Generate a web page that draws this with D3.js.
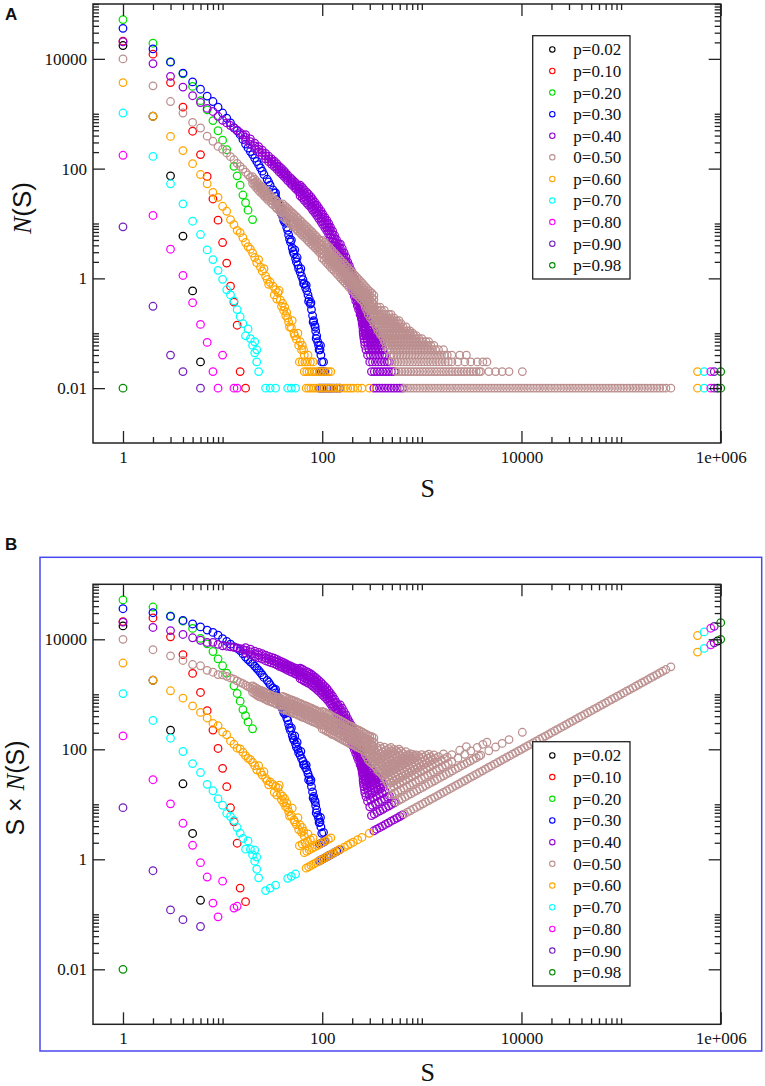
<!DOCTYPE html>
<html>
<head>
<meta charset="utf-8">
<script src="https://cdn.jsdelivr.net/npm/d3@7"></script>
<style>
  body { margin: 0; background: #fff; }
  svg { display: block; }
</style>
</head>
<body>
<svg id="chart" width="765" height="1086"></svg>
<script>
// ---- legend / series ----
const seriesLabels = ['p=0.02', 'p=0.10', 'p=0.20', 'p=0.30', 'p=0.40', '0=0.50',
                      'p=0.60', 'p=0.70', 'p=0.80', 'p=0.90', 'p=0.98'];
const seriesColors = ['#000000', '#ff0000', '#00e000', '#0000ff', '#9400d3', '#bc8f8f',
                      '#ffa500', '#00ffff', '#ff00ff', '#7221bc', '#008b00'];

// ---- axis ticks ----
const xMajors = [1, 100, 10000, 1000000];
const xTickLabels = ['1', '100', '10000', '1e+006'];
const yMajors = [0.01, 1, 100, 10000];
const yTickLabels = ['0.01', '1', '100', '10000'];

// ---- N(S) values: [S, N] ----
const p02 = [[1, 17500], [2, 900], [3, 74], [4, 5.9], [5, 0.59], [6, 0.03], [930000, 0.01]];
const p10 = [[1, 21000], [2, 12200], [3, 3700], [4, 1320], [5, 480], [6, 180], [7, 72], [8, 28],
             [9, 11.5], [10, 4.5], [11, 1.9], [12, 0.72], [13, 0.37], [14, 0.14], [15, 0.02], [17, 0.01]];
const p20 = [[1, 52000], [2, 19300], [3, 8900], [4, 5350], [5, 3150], [6, 1730], [7, 1180], [8, 750],
             [9, 490], [10, 330], [11, 221], [13, 110], [14, 74], [15, 50], [16, 33], [17, 24],
             [18, 17.5], [20, 11.8]];
const p30 = [[1, 36000], [2, 15200], [3, 8700], [4, 5500], [5, 3800], [6, 2800], [7, 2100], [8, 1670],
             [9, 1320], [10, 1030], [11, 830], [12, 680], [13, 560], [14, 490], [15, 415], [16, 340],
             [17, 280], [18, 238], [19, 205], [20, 180], [21, 155], [22, 135], [23, 118], [24, 103],
             [25, 90], [26, 78], [28, 64], [29, 57], [30, 50], [32, 41], [33, 36], [34, 31], [35, 27],
             [36, 23], [37, 20], [38, 16.5], [39, 15], [40, 13.5], [41, 11.5], [42, 10.5], [44, 8.5],
             [45, 7.5], [46, 6.2], [47, 5.2], [48, 4.6], [50, 3.6], [51, 3.1], [52, 2.8], [54, 2.3],
             [55, 2.0], [57, 1.75], [58, 1.5], [60, 1.3], [62, 1.1], [64, 0.95], [66, 0.8], [68, 0.68],
             [70, 0.6], [72, 0.5], [74, 0.42], [76, 0.34], [78, 0.27], [80, 0.21], [82, 0.17], [84, 0.14],
             [86, 0.11], [88, 0.09], [90, 0.07], [92, 0.06], [95, 0.05], [97, 0.04], [99, 0.03], [103, 0.03],
             [34, 36], [39, 18], [43, 11], [49, 5], [53, 3.3], [56, 2.4], [61, 1.5], [65, 0.8], [69, 0.75],
             [73, 0.38], [77, 0.36], [81, 0.16], [85, 0.13], [87, 0.08], [93, 0.05], [96, 0.06]];
const p30RowLevels = [0.02, 0.01];
const p30RowSizes = [[94, 98, 102, 106], [94, 99, 104, 110, 116, 122, 130, 140, 150]];

const p40 = [[1, 20500], [2, 8200], [3, 4800], [4, 3060], [5, 2130], [6, 1600], [7, 1250], [8, 1100],
             [9, 900], [10, 760], [11, 680], [12, 610], [13, 550], [14, 500], [15, 450], [16, 410]];
// band columns: [S, N values seen in that column...]
const p40Band = [
  [17, 415, 370, 330], [19, 347, 310, 276], [21, 291, 260, 231], [23, 252, 225, 200],
  [25, 218, 195, 174], [27, 190, 170, 151], [29, 168, 150, 134], [31, 151, 135, 120],
  [33, 137, 122, 109], [35, 123, 110, 98], [37, 110, 98, 87], [39, 101, 90, 80],
  [41, 92, 82, 73], [43, 84, 75, 67], [45, 76, 68, 60.5], [48, 68, 61, 54],
  [50, 63, 56, 50], [53, 57, 51, 45], [55, 53, 47, 42], [58, 48, 43, 38],
  [60, 50, 43, 37, 32], [63, 45.6, 39.4, 33.6, 29.2], [66, 41, 35.6, 30.4, 26.4],
  [70, 37, 31.9, 27.1, 23.6], [73, 33.8, 29.2, 24.8, 21.6], [77, 30.6, 26.5, 22.5, 19.6],
  [80, 27.5, 23.8, 20.2, 17.6], [84, 24.6, 21.3, 18.1, 15.8], [88, 21.9, 18.9, 16.1, 14],
  [92, 19.4, 16.7, 14.3, 12.4], [97, 16.9, 14.6, 12.4, 10.8], [101, 15, 13, 11, 9.6],
  [106, 13.1, 11.3, 9.7, 8.4], [111, 11.5, 9.9, 8.5, 7.4], [116, 10, 8.6, 7.4, 6.4],
  [121, 8.6, 7.5, 6.3, 5.5], [127, 7.3, 6.3, 5.3, 4.6], [133, 6.1, 5.3, 4.5, 3.9],
  [139, 5.1, 4.4, 3.8, 3.3], [145, 4.3, 3.7, 3.2, 2.8],
  [152, 4.2, 3.5, 2.9, 2.4, 2.0], [159, 3.5, 2.9, 2.4, 2.0, 1.66], [166, 2.9, 2.4, 2.0, 1.66, 1.38],
  [173, 2.45, 2.0, 1.68, 1.4, 1.16], [180, 2.0, 1.68, 1.4, 1.16, 0.97], [187, 1.7, 1.4, 1.17, 0.97, 0.81],
  [195, 1.42, 1.18, 0.98, 0.81, 0.68], [202, 1.19, 0.98, 0.82, 0.68, 0.57], [210, 0.99, 0.82, 0.68, 0.56, 0.47],
  [217, 0.83, 0.68, 0.57, 0.47, 0.39], [225, 0.68, 0.56, 0.47, 0.39, 0.32], [232, 0.57, 0.47, 0.39, 0.32, 0.27],
  [240, 0.46, 0.38, 0.32, 0.27, 0.22], [247, 0.39, 0.32, 0.27, 0.22, 0.19], [255, 0.32, 0.26, 0.22, 0.18, 0.15],
  [262, 0.26, 0.22, 0.18, 0.15, 0.12], [270, 0.22, 0.18, 0.15, 0.12, 0.1]
];
const p40RowLevels = [0.22, 0.19, 0.17, 0.15, 0.13, 0.11, 0.10, 0.09, 0.08, 0.07, 0.06, 0.05, 0.04, 0.03, 0.02, 0.01];
const p40RowSizes = [
  [245, 262],
  [248, 265, 282],
  [250, 268, 285],
  [252, 270, 288, 305],
  [255, 272, 290, 308],
  [257, 274, 292, 311, 332],
  [258, 275, 292, 310, 330],
  [260, 278, 296, 315, 336, 355],
  [262, 280, 298, 318, 340, 362],
  [265, 284, 303, 324, 346, 369, 390],
  [268, 288, 308, 330, 352, 375, 398],
  [275, 295, 316, 338, 362, 386, 410],
  [285, 305, 326, 350, 375, 400, 428],
  [300, 320, 342, 366, 392, 420, 450, 473],
  [312, 333, 356, 380, 406, 434, 464, 496, 530],
  [330, 352, 376, 402, 430, 460, 492, 526, 562, 600, 640]
];

const p50 = [[1, 10000], [2, 3230], [3, 1670], [4, 1030], [5, 695], [6, 550], [7, 390], [8, 315],
             [9, 254], [10, 225], [11, 193], [12, 165], [13, 145], [14, 125], [15, 110], [16, 98],
             [17, 86], [18, 77], [19, 69]];
const p50Band = [
  [20, 71, 62, 54], [21, 64, 56, 49], [22, 58, 50, 44], [23, 53, 46, 40], [24, 49, 43, 37],
  [25, 46, 40, 35], [26, 43, 37, 32], [27, 40, 34.5, 30], [28, 37, 32, 28], [29, 34.5, 30, 26],
  [31, 31, 27, 23.5], [32, 29, 25.5, 22], [34, 26.5, 23, 20], [35, 25, 21.5, 18.7],
  [37, 23, 20, 17.4], [38, 22, 19, 16.5],
  [40, 22.8, 19.3, 15.8, 13.5], [42, 21, 17.8, 14.6, 12.5], [44, 19.5, 16.5, 13.5, 11.5],
  [46, 18, 15.2, 12.4, 10.6], [48, 16.6, 14.1, 11.5, 9.9], [50, 15.6, 13.2, 10.8, 9.2],
  [52, 14.6, 12.3, 10.1, 8.6], [55, 13.3, 11.2, 9.2, 7.9], [57, 12.4, 10.5, 8.6, 7.3],
  [60, 11.4, 9.7, 7.9, 6.8], [62, 10.7, 9, 7.4, 6.3], [65, 9.8, 8.3, 6.8, 5.8],
  [68, 9.1, 7.7, 6.3, 5.4], [71, 8.5, 7.2, 5.9, 5], [74, 7.8, 6.6, 5.4, 4.6],
  [78, 7.2, 6.1, 5, 4.2], [81, 6.6, 5.6, 4.6, 3.9], [85, 6.1, 5.2, 4.2, 3.6],
  [88, 5.7, 4.8, 4, 3.4], [92, 5.2, 4.4, 3.6, 3.1], [96, 4.8, 4.1, 3.3, 2.85],
  [100, 4.9, 4.1, 3.4, 2.8, 2.35], [105, 4.5, 3.7, 3.1, 2.6, 2.15], [110, 4.1, 3.4, 2.85, 2.4, 1.95],
  [115, 3.8, 3.1, 2.6, 2.15, 1.8], [120, 3.5, 2.9, 2.4, 2.0, 1.65], [125, 3.2, 2.65, 2.2, 1.8, 1.5],
  [131, 2.9, 2.4, 2.0, 1.65, 1.4], [137, 2.7, 2.2, 1.85, 1.55, 1.28], [143, 2.45, 2.05, 1.7, 1.4, 1.17],
  [150, 2.25, 1.85, 1.55, 1.3, 1.07], [156, 2.05, 1.7, 1.42, 1.18, 0.98], [163, 1.9, 1.55, 1.3, 1.08, 0.9],
  [170, 1.75, 1.45, 1.2, 1.0, 0.83], [178, 1.6, 1.3, 1.1, 0.91, 0.76], [186, 1.45, 1.2, 1.0, 0.83, 0.69],
  [195, 1.35, 1.1, 0.93, 0.77, 0.64], [204, 1.23, 1.02, 0.85, 0.7, 0.59], [213, 1.13, 0.94, 0.78, 0.65, 0.54],
  [222, 1.04, 0.86, 0.72, 0.6, 0.5], [232, 0.96, 0.79, 0.66, 0.55, 0.46], [242, 0.88, 0.73, 0.61, 0.5, 0.42],
  [253, 0.81, 0.67, 0.56, 0.46, 0.39], [264, 0.74, 0.61, 0.51, 0.42, 0.35], [276, 0.68, 0.56, 0.47, 0.39, 0.32],
  [288, 0.62, 0.52, 0.43, 0.36, 0.3], [300, 0.58, 0.48, 0.4, 0.33, 0.28], [315, 0.54, 0.44, 0.37, 0.31, 0.26],
  [330, 0.49, 0.41, 0.34, 0.28, 0.23]
];
const p50RowLevels = [0.30, 0.26, 0.22, 0.19, 0.17, 0.15, 0.13, 0.11, 0.10, 0.09, 0.08, 0.07, 0.06,
                      0.05, 0.04, 0.03, 0.02, 0.01];
const p50RowSizes = [
  [270, 290, 310, 332, 356, 380],
  [280, 300, 320, 343, 367, 393, 420],
  [290, 310, 332, 356, 380, 406, 434, 465, 490],
  [305, 326, 349, 374, 400, 428, 458, 490, 525],
  [320, 342, 366, 392, 420, 450, 482, 516, 555, 590],
  [335, 358, 383, 410, 439, 470, 503, 539, 577, 618],
  [350, 375, 402, 430, 460, 492, 527, 564, 604, 647, 693],
  [365, 391, 418, 448, 479, 513, 549, 588, 629, 673, 720, 760],
  [380, 407, 436, 467, 500, 535, 573, 614, 657, 704, 754, 808],
  [395, 423, 453, 485, 519, 556, 595, 637, 682, 730, 782, 837, 880],
  [410, 439, 470, 503, 539, 577, 618, 662, 709, 759, 813, 870, 932, 1000],
  [425, 455, 487, 522, 559, 598, 640, 686, 734, 786, 842, 901, 965, 1030, 1100, 1170],
  [440, 471, 504, 540, 578, 619, 663, 710, 760, 814, 872, 934, 1000, 1070, 1150, 1230, 1320],
  [460, 493, 528, 565, 605, 648, 694, 743, 796, 852, 912, 977, 1050, 1120, 1200, 1280, 1370, 1470, 1650],
  [490, 525, 562, 602, 645, 690, 739, 792, 848, 908, 972, 1040, 1115, 1195, 1280, 1370, 1465, 1570,
   1680, 1800, 2000, 2400, 2800],
  [500, 535, 573, 614, 657, 704, 754, 807, 864, 926, 991, 1060, 1140, 1220, 1300, 1400, 1500, 1600,
   1720, 1840, 2000, 2300, 2700, 3100, 3600, 4100, 4500],
  [550, 590, 630, 675, 723, 774, 829, 888, 951, 1020, 1090, 1170, 1250, 1340, 1430, 1540, 1650, 1760,
   1890, 2020, 2170, 2320, 2490, 2660, 2850, 3060, 3270, 3510, 3760, 3900, 4700, 5500, 6400, 7500, 10200],
  [670, 720, 770, 825, 885, 950, 1020, 1090, 1170, 1250, 1340, 1440, 1540, 1650, 1770, 1900, 2030,
   2180, 2330, 2500, 2680, 2870, 3080, 3300, 3540, 3790, 4060, 4350, 4670, 5000, 5360, 5750, 6160,
   6600, 7080, 7590, 8130, 8720, 9340, 10000, 10700, 11500, 12300, 13200, 14200, 15200, 16300, 17400,
   18700, 20000, 21500, 23000, 24700, 26500, 28400, 30400, 32600, 34900, 37400, 40100, 43000, 46100,
   49400, 53000, 56800, 60900, 65200, 69900, 74900, 80300, 86100, 92300, 98900, 106000, 114000, 122000,
   131000, 140000, 150000, 161000, 172000, 185000, 198000, 212000, 228000, 244000, 262000, 282000, 316000]
];

const p60 = [[1, 3700], [2, 900], [3, 386], [4, 213], [5, 123], [6, 78], [7, 53], [8, 37], [9, 30],
             [10, 20.6], [11, 16.7], [12, 11.8], [13, 9.5], [14, 7.5], [15, 6.8], [16, 5.5], [17, 4.5],
             [18, 3.8], [19, 3.4], [20, 2.9], [21, 2.4], [22, 1.93], [23, 2.2], [24, 1.6], [25, 1.36],
             [26, 1.5], [27, 1.1], [28, 0.96], [29, 0.78], [30, 0.85], [32, 0.72], [33, 0.5], [34, 0.62],
             [35, 0.42], [36, 0.55], [37, 0.6], [38, 0.4], [39, 0.31], [40, 0.35], [41, 0.26], [42, 0.3],
             [43, 0.21], [44, 0.24], [45, 0.19], [46, 0.16], [47, 0.13], [49, 0.127], [50, 0.17], [52, 0.1],
             [53, 0.09], [55, 0.078], [57, 0.1], [58, 0.06], [60, 0.07], [62, 0.05], [63, 0.06], [65, 0.05],
             [66, 0.04], [72, 0.04], [585000, 0.02], [585000, 0.01]];
const p60RowLevels = [0.03, 0.02, 0.01];
const p60RowSizes = [
  [59, 63, 67, 71, 76, 81],
  [66, 70, 74, 79, 84, 89, 95, 101, 108, 115, 122],
  [69, 73, 77, 82, 87, 92, 97, 103, 109, 115, 122, 129, 137, 145, 152, 167, 180, 192, 205, 227, 250, 297]
];

const p70 = [[1, 1030], [2, 167], [3, 53], [4, 22.8], [5, 11], [6, 6.3], [7, 3.3], [8, 2.2], [9, 1.4],
             [10, 0.96], [11, 0.62], [12, 0.5], [13, 0.39], [14, 0.27], [15, 0.2], [16, 0.15], [17, 0.09],
             [18, 0.12], [19, 0.08], [20, 0.06], [21, 0.044], [22, 0.03], [21, 0.07], [22, 0.05], [23, 0.02],
             [27, 0.01], [30, 0.01], [34, 0.01], [45, 0.01], [49, 0.01], [54, 0.01],
             [682000, 0.02], [682000, 0.01]];
const p80 = [[1, 175], [2, 14], [3, 3.4], [4, 1.13], [5, 0.36], [6, 0.145], [7, 0.068], [8, 0.02],
             [9, 0.01], [10, 0.04], [13, 0.01], [14, 0.01], [795000, 0.02], [795000, 0.01]];
const p90 = [[1, 8.7], [2, 0.31], [3, 0.04], [4, 0.02], [6, 0.01], [861000, 0.02], [861000, 0.01]];
const p98 = [[1, 0.01], [1000000, 0.02], [1000000, 0.01]];

// ---- build full point lists ----
function addRows(points, levels, sizes) {
  return points.concat(levels.flatMap((n, i) => sizes[i].map(s => [s, n])));
}
function addBand(points, band) {
  return points.concat(band.flatMap(b => b.slice(1).map(n => [b[0], n])));
}
const seriesPoints = [
  p02, p10, p20,
  addRows(p30, p30RowLevels, p30RowSizes),
  addRows(addBand(p40, p40Band), p40RowLevels, p40RowSizes),
  addRows(addBand(p50, p50Band), p50RowLevels, p50RowSizes),
  addRows(p60, p60RowLevels, p60RowSizes),
  p70, p80, p90, p98
];

// ---- layout ----
const serif = '"Liberation Serif", "Times New Roman", serif';
const sans = '"Liberation Sans", Arial, sans-serif';
const svg = d3.select('#chart');
const plotLeft = 93, plotRight = 720.7;
const x = d3.scaleLog().domain([0.5, 1e6]).range([plotLeft, plotRight]);

const xMinors = xMajors.flatMap(m => d3.range(2, 11).map(k => k * m)).filter(v => v <= 1e6);
const yMinors = yMajors.flatMap(m => d3.range(2, 11).map(k => k * m)).filter(v => v <= 1e5);

function styleAxis(g) {
  g.attr('font-family', null);
  g.select('.domain').remove();
  g.selectAll('line').attr('stroke', '#222').attr('stroke-width', 1.3);
  g.selectAll('text').style('font-family', serif)
    .style('font-size', '17px').attr('fill', '#111');
}

function drawPanel(opts) {
  const { top, bottom, yValue, legendTop, legendHeight, xLabelOffset } = opts;
  const y = d3.scaleLog().domain([1e-3, 1e5]).range([bottom, top]);
  const g = svg.append('g');

  // points
  seriesPoints.forEach((pts, i) => {
    g.append('g').selectAll('circle')
      .data(pts)
      .enter()
      .append('circle')
      .attr('cx', d => x(d[0]))
      .attr('cy', d => y(yValue(d)))
      .attr('r', 3.8)
      .attr('fill', 'none')
      .attr('stroke', seriesColors[i])
      .attr('stroke-width', 1.25);
  });

  // frame
  g.append('rect')
    .attr('x', plotLeft).attr('y', top)
    .attr('width', plotRight - plotLeft).attr('height', bottom - top)
    .attr('fill', 'none').attr('stroke', '#222').attr('stroke-width', 1.5);

  // major axes with labels
  g.append('g').attr('transform', `translate(0,${bottom})`)
    .call(d3.axisBottom(x).tickValues(xMajors).tickFormat((d, i) => xTickLabels[i])
      .tickSize(-12).tickSizeOuter(0).tickPadding(8))
    .call(styleAxis);
  g.append('g').attr('transform', `translate(${plotLeft},0)`)
    .call(d3.axisLeft(y).tickValues(yMajors).tickFormat((d, i) => yTickLabels[i])
      .tickSize(-12).tickSizeOuter(0).tickPadding(6))
    .call(styleAxis);
  g.append('g').attr('transform', `translate(0,${top})`)
    .call(d3.axisTop(x).tickValues(xMajors).tickFormat('').tickSize(-12).tickSizeOuter(0))
    .call(styleAxis);
  g.append('g').attr('transform', `translate(${plotRight},0)`)
    .call(d3.axisRight(y).tickValues(yMajors).tickFormat('').tickSize(-12).tickSizeOuter(0))
    .call(styleAxis);

  // minor ticks
  g.append('g').attr('transform', `translate(0,${bottom})`)
    .call(d3.axisBottom(x).tickValues(xMinors).tickFormat('').tickSize(-6).tickSizeOuter(0))
    .call(styleAxis);
  g.append('g').attr('transform', `translate(0,${top})`)
    .call(d3.axisTop(x).tickValues(xMinors).tickFormat('').tickSize(-6).tickSizeOuter(0))
    .call(styleAxis);
  g.append('g').attr('transform', `translate(${plotLeft},0)`)
    .call(d3.axisLeft(y).tickValues(yMinors).tickFormat('').tickSize(-6).tickSizeOuter(0))
    .call(styleAxis);
  g.append('g').attr('transform', `translate(${plotRight},0)`)
    .call(d3.axisRight(y).tickValues(yMinors).tickFormat('').tickSize(-6).tickSizeOuter(0))
    .call(styleAxis);

  // legend
  const legend = g.append('g').attr('transform', `translate(532.7,${legendTop})`);
  legend.append('rect')
    .attr('width', 97.3).attr('height', legendHeight)
    .attr('fill', '#fff').attr('stroke', '#222').attr('stroke-width', 1.3);
  const step = (legendHeight - 27.4) / (seriesLabels.length - 1);
  seriesLabels.forEach((label, i) => {
    const item = legend.append('g').attr('transform', `translate(0,${13.7 + i * step})`);
    item.append('circle')
      .attr('cx', 19.6).attr('cy', 0).attr('r', 2.7)
      .attr('fill', 'none').attr('stroke', seriesColors[i]).attr('stroke-width', 1.1);
    item.append('text')
      .attr('x', 40.6).attr('dy', '0.35em')
      .style('font-family', serif).style('font-size', '17px')
      .attr('fill', '#111')
      .text(label);
  });

  // x axis label
  g.append('text')
    .attr('x', (plotLeft + plotRight) / 2 + 21).attr('y', bottom + xLabelOffset)
    .attr('text-anchor', 'middle')
    .style('font-family', serif).style('font-size', '26px')
    .attr('fill', '#111')
    .text('S');

  return g;
}

// Panel A: N(S)
const gA = drawPanel({ top: 4, bottom: 443, yValue: d => d[1], legendTop: 35.7, legendHeight: 243.3,
                       xLabelOffset: 54 });
const labelA = gA.append('text')
  .attr('transform', 'translate(31,208) rotate(-90)')
  .attr('text-anchor', 'middle')
  .style('font-size', '26px').attr('fill', '#111');
labelA.append('tspan').style('font-family', serif).style('font-style', 'italic').text('N');
labelA.append('tspan').style('font-family', sans).text('(S)');

svg.append('text')
  .attr('x', 5).attr('y', 20)
  .style('font-family', sans).style('font-weight', 'bold')
  .style('font-size', '17px').attr('fill', '#111')
  .text('A');

// Panel B: S x N(S)
svg.append('rect')
  .attr('x', 40).attr('y', 557.3).attr('width', 721.7).attr('height', 493.7)
  .attr('fill', 'none').attr('stroke', '#4848f0').attr('stroke-width', 1.5);

const gB = drawPanel({ top: 584.3, bottom: 1024.3, yValue: d => d[0] * d[1], legendTop: 741.7,
                       legendHeight: 244.3, xLabelOffset: 56.5 });
const labelB = gB.append('text')
  .attr('transform', 'translate(24,788) rotate(-90)')
  .attr('text-anchor', 'middle')
  .style('font-size', '25px').attr('fill', '#111');
labelB.append('tspan').style('font-family', sans).text('S \u00d7 ');
labelB.append('tspan').style('font-family', serif).style('font-style', 'italic').text('N');
labelB.append('tspan').style('font-family', sans).text('(S)');

svg.append('text')
  .attr('x', 5).attr('y', 550)
  .style('font-family', sans).style('font-weight', 'bold')
  .style('font-size', '17px').attr('fill', '#111')
  .text('B');
</script>
</body>
</html>
